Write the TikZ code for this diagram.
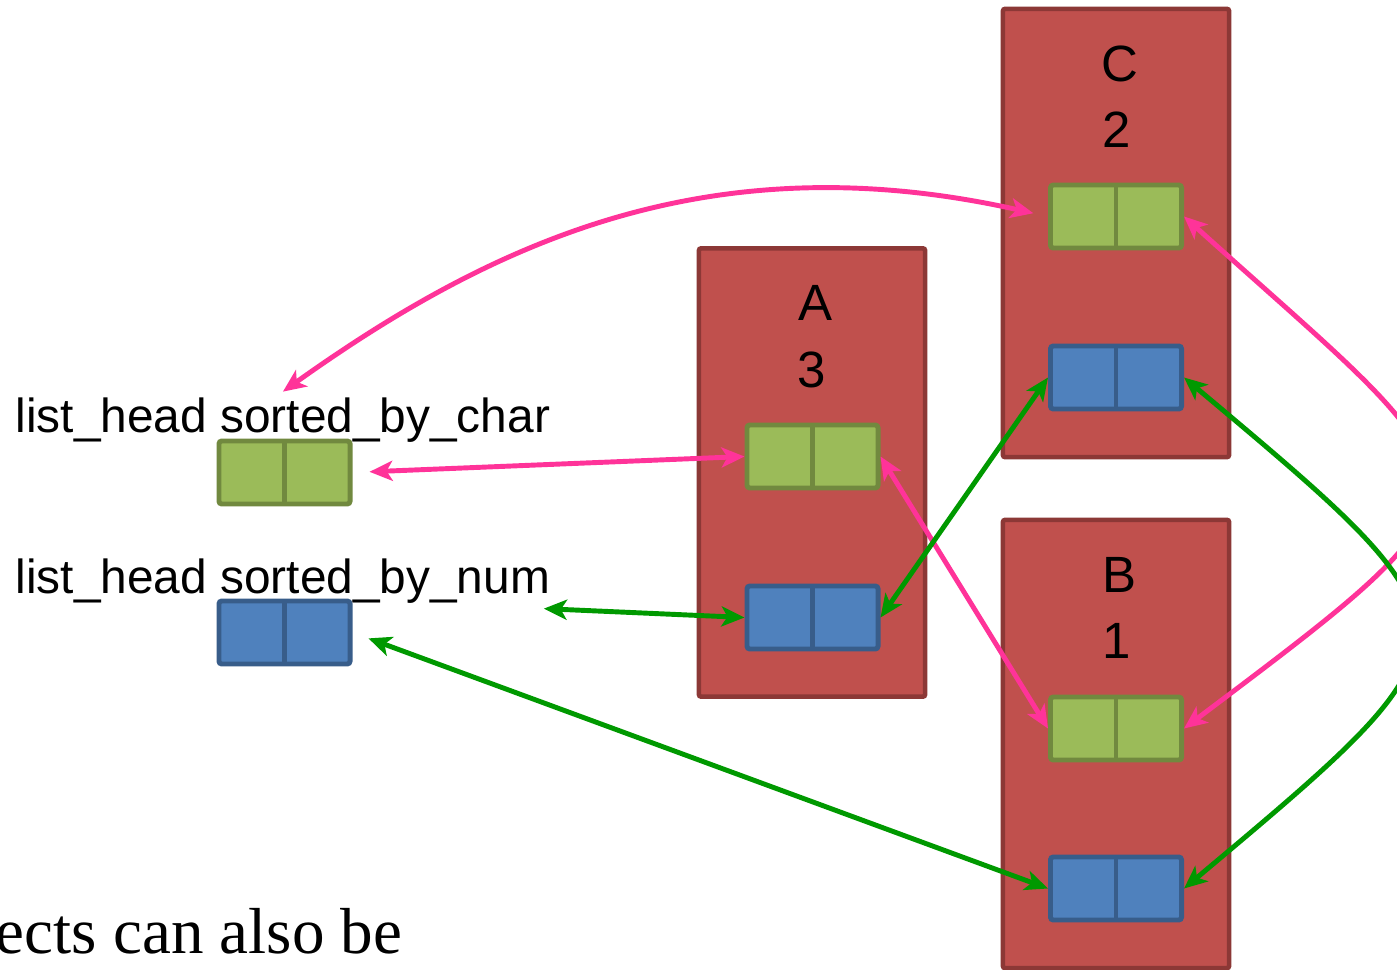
\documentclass[tikz,border=0pt]{standalone}
\usepackage{fontspec}
\setmainfont{Liberation Sans}
\newfontfamily\bodyserif{Liberation Serif}
\usepackage{tikz}
\usetikzlibrary{arrows.meta,calc}

\definecolor{objfill}{HTML}{C0504D}
\definecolor{objedge}{HTML}{8C3836}
\definecolor{charfill}{HTML}{9BBB59}
\definecolor{charedge}{HTML}{71893F}
\definecolor{numfill}{HTML}{4F81BD}
\definecolor{numedge}{HTML}{385D8A}
\definecolor{charline}{HTML}{FF3399}
\definecolor{numline}{HTML}{009900}

\begin{document}
\begin{tikzpicture}[x=0.01cm, y=-0.01cm,
    >={Stealth[length=0.23cm,width=0.2cm,inset=0.06cm]},
    object/.style={draw=objedge, fill=objfill, line width=1.3pt, rounded corners=0.6pt,
      minimum width=2.26cm, minimum height=4.48cm, inner sep=0pt},
    cells/.style 2 args={draw=#2, fill=#1, line width=1.4pt, rounded corners=0.8pt,
      minimum width=1.31cm, minimum height=0.63cm, inner sep=0pt,
      path picture={\draw[#2, line width=1.4pt] (path picture bounding box.north) -- (path picture bounding box.south);}},
    charcells/.style={cells={charfill}{charedge}},
    numcells/.style={cells={numfill}{numedge}},
    tag/.style={inner sep=0pt, font=\fontsize{14.5}{17}\selectfont},
    headlabel/.style={inner sep=0.05cm, anchor=base west, font=\fontsize{13.6}{16}\selectfont},
    charlink/.style={<->, draw=charline, line width=1.4pt},
    numlink/.style={<->, draw=numline, line width=1.4pt}]
  \useasboundingbox (0,0) rectangle (1397,970);
  \clip (0,0) rectangle (1397,970);

  % objects
  \node[object] (objC) at (1116,233) {};
  \node[object] (objA) at (812,472.5) {};
  \node[object] (objB) at (1116,744) {};

  \node[tag] (nameC) at (1120,64) {C};
  \node[tag] (valC) at (1117,130) {2};
  \node[tag] (nameA) at (815,303) {A};
  \node[tag] (valA) at (812,370) {3};
  \node[tag] (nameB) at (1119,575) {B};
  \node[tag] (valB) at (1117,641) {1};

  % list links inside the objects
  \node[charcells] (charC) at (1116,216.5) {};
  \node[numcells] (numC) at (1116,377.5) {};
  \node[charcells] (charA) at (812.5,456.5) {};
  \node[numcells] (numA) at (812.5,617.5) {};
  \node[charcells] (charB) at (1116,728.5) {};
  \node[numcells] (numB) at (1116,888.5) {};

  % list heads
  \node[headlabel] (charLabel) at (10,432) {list\_head sorted\_by\_char};
  \node[charcells] (charHead) at (284.5,472.5) {};
  \node[headlabel] (numLabel) at (10,593) {list\_head sorted\_by\_num};
  \node[numcells] (numHead) at (284.5,632.5) {};

  \node[anchor=base east, inner sep=0pt, font=\bodyserif\fontsize{18.5}{22}\selectfont] (bodyText) at (403,953) {ects can also be};

  % sorted_by_char links
  \draw[charlink, shorten <=0.15cm] (charC.west) .. controls +(-335,-75) and +(213,-152) .. (charLabel.north);
  \draw[charlink, shorten <=0.17cm] (charHead.east) -- (charA.west);
  \draw[charlink] (charA.east) -- (charB.west);
  \draw[charlink] (charB.east) to[out=37, in=-42, looseness=2.1] (charC.east);

  % sorted_by_num links
  \draw[numlink] ([xshift=-0.12cm]numLabel.south east) -- (numA.west);
  \draw[numlink, shorten <=0.17cm] (numHead.east) -- (numB.west);
  \draw[numlink] (numA.east) -- (numC.west);
  \draw[numlink] (numB.east) to[out=40, in=-40, looseness=2.0] (numC.east);
\end{tikzpicture}
\end{document}
